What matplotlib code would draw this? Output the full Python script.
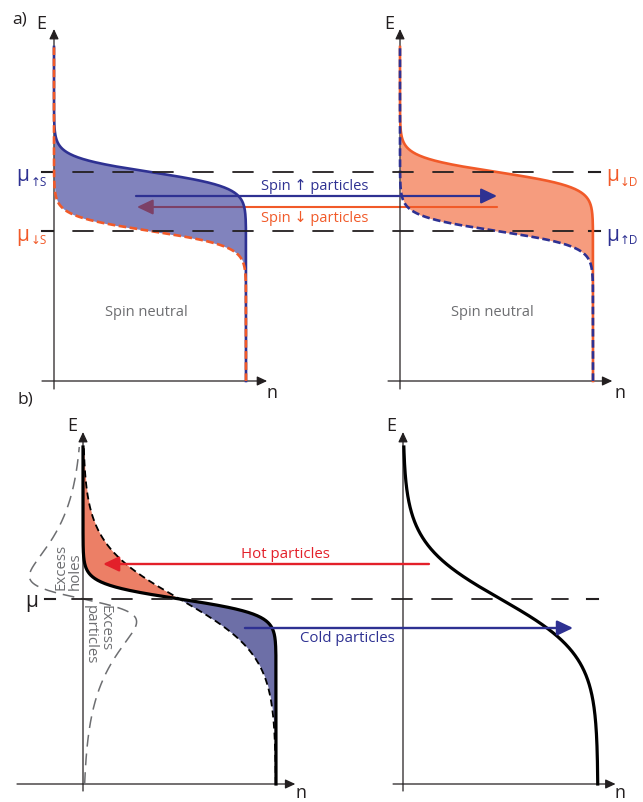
import numpy as np
import matplotlib.pyplot as plt
from matplotlib.patches import ConnectionPatch

plt.rcParams['font.family'] = ['Open Sans', 'DejaVu Sans']
plt.rcParams['lines.scale_dashes'] = False

# ---- data (energy in arbitrary units above the n axis, n normalised to 1) ----
# a) spin accumulation: source S and drain D
mu_up_S, mu_down_S = 209, 150
mu_down_D, mu_up_D = 209, 150
T_a = 7.5
E_top_a = 334
# b) hot / cold distributions
mu_b = 185
T_cold, T_hot = 7.5, 28
T_excess = 40          # width of the excess holes / particles curve
excess_scale = 0.88
E_top_b = 337

# arrow heights
E_arrow_up, E_arrow_down = 185, 174
E_hot, E_cold = 220, 156

NAVY = '#2E3192'
ORANGE = '#F15A29'
RED = '#E3202A'
GREY = '#6D6E71'
INK = '#231F20'

W, H = 643, 803
E_SPAN = 352


def fermi(E, mu, T):
    return 1.0 / (1.0 + np.exp((E - mu) / T))


fig = plt.figure(figsize=(W / 100, H / 100), dpi=100)


def make_ax(ox, oy, w):
    ax = fig.add_axes([ox / W, (H - oy) / H, w / W, E_SPAN / H])
    ax.set_xlim(0, 1)
    ax.set_ylim(0, E_SPAN)
    ax.axis('off')
    return ax


axL = make_ax(54, 382, 192)
axR = make_ax(400, 382, 193)
bxL = make_ax(83, 785, 193)
bxR = make_ax(403, 785, 195)


def link(axA, xyA, axB, xyB, color, lw, style='-', ls='-', ms=10, z=3, host=None):
    cp = ConnectionPatch(xyA, xyB, coordsA=axA.transData, coordsB=axB.transData,
                         arrowstyle=style, color=color, lw=lw, linestyle=ls,
                         mutation_scale=ms, shrinkA=0, shrinkB=0, zorder=z, clip_on=False)
    (host if host is not None else fig).add_artist(cp)


AX_HEAD = '-|>,head_length=0.6,head_width=0.28'
BIG_HEAD = '-|>,head_length=0.8,head_width=0.38'


def frame(ax, n_left, n_tip, E_bot, e_lab, n_lab):
    link(ax, (0, E_bot), ax, (0, E_SPAN), INK, 0.9, AX_HEAD, ms=10, host=ax)
    link(ax, (n_left, 0), ax, (n_tip, 0), INK, 0.9, AX_HEAD, ms=10, host=ax)
    ax.text(e_lab[0], e_lab[1], 'E', fontsize=13, color=INK, ha='center', va='center')
    ax.text(n_lab[0], n_lab[1], 'n', fontsize=13, color=INK, ha='center', va='center')


frame(axL, -0.0625, 1.11, -8, (-0.068, 358), (1.135, -11))
frame(axR, -0.062, 1.10, -8, (-0.057, 358), (1.14, -11))
frame(bxL, -0.342, 1.10, -7, (-0.057, 359), (1.13, -8.5))
frame(bxR, -0.051, 1.09, -7, (-0.062, 359), (1.115, -8.5))

axL.text(-0.18, 363, 'a)', fontsize=12.5, color=INK, ha='center', va='center')
bxL.text(-0.30, 385, 'b)', fontsize=12.5, color=INK, ha='center', va='center')

# ---- a) ----
E = np.linspace(0, E_top_a, 800)
# red (spin down) arrow sits under the translucent fills
link(axR, (0.503, E_arrow_down), axL, (0.432, E_arrow_down), ORANGE, 1.5, BIG_HEAD, ms=12, z=1, host=axL)

for ax, mu_solid, mu_dash, c_solid, c_dash in [(axL, mu_up_S, mu_down_S, NAVY, ORANGE),
                                                (axR, mu_down_D, mu_up_D, ORANGE, NAVY)]:
    ns = fermi(E, mu_solid, T_a)
    nd = fermi(E, mu_dash, T_a)
    ax.fill_betweenx(E, nd, ns, color=c_solid, alpha=0.6, lw=0, zorder=2)
    ax.plot(ns, E, color=c_solid, lw=1.9, zorder=3, clip_on=False)
    ax.plot(nd, E, color=c_dash, lw=1.9, ls=(0, (5.5, 2.5)), zorder=4, clip_on=False)
    ax.text(0.48, 69, 'Spin neutral', fontsize=10.5, color=GREY, ha='center', va='center')

link(axL, (0.427, E_arrow_up), axR, (0.503, E_arrow_up), NAVY, 1.6, BIG_HEAD, ms=12, z=5)
axL.text(1.36, 195, 'Spin \u2191 particles', fontsize=10.5, color=NAVY, ha='center', va='center')
axL.text(1.36, 164, 'Spin \u2193 particles', fontsize=10.5, color=ORANGE, ha='center', va='center')

# chemical potential lines
for mu in (mu_up_S, mu_down_S):
    link(axL, (0.099, mu), axR, (0.896, mu), INK, 1.3, ls=(0, (14.4, 14.4)), z=4)
    axL.plot([-0.0625, -0.005], [mu, mu], color=INK, lw=1.5, clip_on=False)
    axR.plot([0.979, 1.036], [mu, mu], color=INK, lw=1.5, clip_on=False)


def mu_label(ax, n_mu, ha_mu, n_sub, mu, sub, color):
    ax.text(n_mu, mu - 3, '\u03bc', fontsize=15, color=color, ha=ha_mu, va='center')
    ax.text(n_sub, mu - 9, sub, fontsize=8.5, color=color, ha='left', va='center')


mu_label(axL, -0.127, 'right', -0.124, mu_up_S, '\u2191S', NAVY)
mu_label(axL, -0.127, 'right', -0.124, mu_down_S, '\u2193S', ORANGE)
mu_label(axR, 1.068, 'left', 1.14, mu_down_D, '\u2193D', ORANGE)
mu_label(axR, 1.068, 'left', 1.14, mu_up_D, '\u2191D', NAVY)

# ---- b) ----
Eb = np.linspace(0, E_top_b, 800)
n_cold = fermi(Eb, mu_b, T_cold)
n_hot = fermi(Eb, mu_b, T_hot)
n_excess = -excess_scale * (fermi(Eb, mu_b, T_excess) - n_cold)

bxL.fill_betweenx(Eb, n_cold, n_hot, where=Eb >= mu_b, color='#EC7F66', lw=0, zorder=2)
bxL.fill_betweenx(Eb, n_cold, n_hot, where=Eb <= mu_b, color='#6D6FA7', lw=0, zorder=2)
bxL.plot(n_hot, Eb, color='k', lw=1.3, ls=(0, (5, 3)), zorder=3, clip_on=False)
bxL.plot(n_cold, Eb, color='k', lw=2.3, zorder=4, clip_on=False)
bxL.plot(n_excess, Eb, color=GREY, lw=1.1, ls=(0, (8.5, 5)), zorder=3, clip_on=False)
bxR.plot(n_hot, Eb, color='k', lw=2.3, zorder=4, clip_on=False)

bxL.text(-0.078, 195, 'Excess\nholes', rotation=90, fontsize=10.8, color=GREY,
         ha='center', va='bottom', multialignment='left', linespacing=0.95)
bxL.text(0.075, 180, 'Excess\nparticles', rotation=270, fontsize=10.8, color=GREY,
         ha='center', va='top', multialignment='left', linespacing=0.95)

link(bxL, (-0.057, mu_b), bxR, (0.846, mu_b), INK, 1.3, ls=(0, (14.4, 14.4)), z=4)
bxL.plot([-0.197, -0.145], [mu_b, mu_b], color=INK, lw=1.5, clip_on=False)
bxR.plot([0.944, 1.0], [mu_b, mu_b], color=INK, lw=1.5, clip_on=False)
bxL.text(-0.264, mu_b - 2, '\u03bc', fontsize=15, color=INK, ha='center', va='center')

link(bxR, (0.133, E_hot), bxL, (0.104, E_hot), RED, 1.7, BIG_HEAD, ms=12, z=5)
bxL.text(1.05, 230, 'Hot particles', fontsize=10.8, color=RED, ha='center', va='center')
link(bxL, (0.839, E_cold), bxR, (0.872, E_cold), NAVY, 1.7, BIG_HEAD, ms=12, z=5)
bxL.text(1.368, 146, 'Cold particles', fontsize=10.8, color=NAVY, ha='center', va='center')

fig.savefig('out.png', dpi=100)
